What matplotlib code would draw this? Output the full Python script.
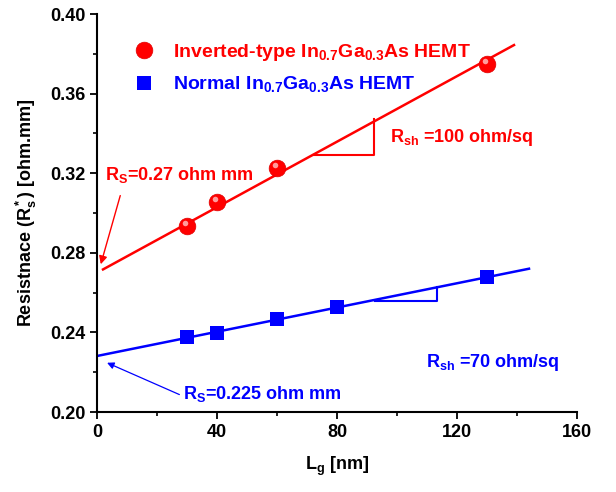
import numpy as np
import matplotlib
matplotlib.use("Agg")
import matplotlib.pyplot as plt
import matplotlib.transforms as mtransforms

plt.rcParams['font.family'] = ['Liberation Sans', 'DejaVu Sans']
plt.rcParams['font.weight'] = 'bold'
plt.rcParams['axes.labelweight'] = 'bold'
plt.rcParams['mathtext.fontset'] = 'custom'
plt.rcParams['mathtext.rm'] = 'Liberation Sans:bold'
plt.rcParams['mathtext.bf'] = 'Liberation Sans:bold'
plt.rcParams['mathtext.it'] = 'Liberation Sans:bold'
plt.rcParams['mathtext.default'] = 'rm'

# gate length [nm] and measured resistance [ohm.mm]
lg_inv = [30, 40, 60, 130]
r_inv = [0.2935, 0.3055, 0.3226, 0.375]
lg_norm = [30, 40, 60, 80, 130]
r_norm = [0.2378, 0.2395, 0.2467, 0.2526, 0.2677]
rs_inv = 0.27  # extracted source resistance, inverted-type

red = '#ff0000'
blue = '#0000ff'

fig = plt.figure(figsize=(6.16, 4.92), dpi=100)
ax = fig.add_axes([0.1575, 0.1626, 0.7792, 0.8089])

# linear fits (inverted-type pinned at its extracted R_S)
xa = np.array(lg_inv, float)
slope_inv = np.sum(xa * (np.array(r_inv) - rs_inv)) / np.sum(xa ** 2)
p_inv = [slope_inv, rs_inv]
p_norm = np.polyfit(lg_norm, r_norm, 1)
xi = np.array([2, 139])
xn = np.array([0, 144])
ax.plot(xi, np.polyval(p_inv, xi), color=red, lw=1.8, zorder=2)
ax.plot(xn, np.polyval(p_norm, xn), color=blue, lw=1.8, zorder=2)

# slope triangles
x1, x2 = 72, 92.3
y1 = np.polyval(p_inv, x1)
ax.plot([x1, x2, x2], [y1, y1, np.polyval(p_inv, x2) + 0.0015], color=red, lw=1.5)
x1, x2 = 92.7, 113.3
y1 = np.polyval(p_norm, x1) - 0.0008
ax.plot([x1, x2, x2], [y1, y1, np.polyval(p_norm, x2)], color=blue, lw=1.5)

# shaded spheres for the inverted-type data
ax.plot(lg_inv, r_inv, 'o', color=red, ms=12, mec='#e00000', mew=0.5, zorder=3,
        label='Inverted-type In$_{0.7}$Ga$_{0.3}$As HEMT')
hl = mtransforms.offset_copy(ax.transData, fig=fig, x=-1.5, y=2.0, units='points')
ax.plot(lg_inv, r_inv, 'o', color='#ff9c9c', ms=4, mew=0, transform=hl, zorder=4)
ax.plot(lg_norm, r_norm, 's', color=blue, ms=10, mew=0, zorder=3,
        label='Normal In$_{0.7}$Ga$_{0.3}$As HEMT')

leg = ax.legend(loc='upper left', bbox_to_anchor=(0.057, 0.95), frameon=False,
                fontsize=14, handletextpad=0.9, labelspacing=0.6, borderaxespad=0,
                handlelength=1.2)
for t, c in zip(leg.get_texts(), [red, blue]):
    t.set_color(c)

# annotations
ax.text(2.5, 0.3165, 'R$_S$=0.27 ohm mm', color=red, fontsize=13)
ax.annotate('', xy=(1, 0.2729), xytext=(8, 0.3101),
            arrowprops=dict(arrowstyle='-|>', color=red, lw=1, mutation_scale=12))
ax.text(97.5, 0.3355, 'R$_{sh}$ =100 ohm/sq', color=red, fontsize=13)
ax.text(109.5, 0.2227, 'R$_{sh}$ =70 ohm/sq', color=blue, fontsize=13)
ax.text(28.5, 0.2067, 'R$_S$=0.225 ohm mm', color=blue, fontsize=13)
ax.annotate('', xy=(2.5, 0.2253), xytext=(28.3, 0.2082),
            arrowprops=dict(arrowstyle='-|>', color=blue, lw=0.9, mutation_scale=10))

ax.set_xlim(0, 160)
ax.set_ylim(0.20, 0.40)
ax.set_xticks(np.arange(0, 161, 40))
ax.set_xticks(np.arange(0, 161, 20), minor=True)
ax.set_yticks(np.arange(0.20, 0.401, 0.04))
ax.set_yticks(np.arange(0.20, 0.401, 0.02), minor=True)
ax.set_yticklabels(['%.2f' % v for v in np.arange(0.20, 0.401, 0.04)])
ax.tick_params(which='major', direction='out', length=5, width=1.3, labelsize=13)
ax.tick_params(which='minor', direction='out', length=3, width=1.2)
for s in ['top', 'right']:
    ax.spines[s].set_visible(False)
for s in ['left', 'bottom']:
    ax.spines[s].set_linewidth(1.5)

ax.set_xlabel('L$_g$ [nm]', fontsize=13, labelpad=10)
ax.set_ylabel('Resistnace (R$_s^*$) [ohm.mm]', fontsize=13, labelpad=8)

fig.savefig('out.png', dpi=100)
